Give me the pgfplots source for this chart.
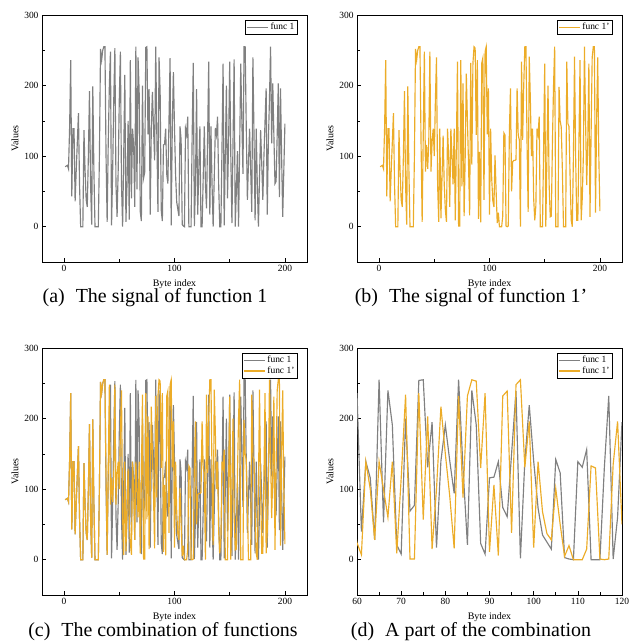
\documentclass[border=0pt]{standalone}
\usepackage{fontspec}
\setmainfont{Liberation Serif}
\usepackage{pgfplots}
\usepackage{pgfplotstable}
\pgfplotsset{compat=1.18}
\definecolor{fgrey}{RGB}{128,128,128}
\definecolor{fyel}{RGB}{236,172,40}

\pgfplotstableread{
x a b
1 85 85
2 86 86
3 87 87
4 82 82
5 140 140
6 236 236
7 43 43
8 139 139
9 139 139
10 36 36
11 80 80
12 120 120
13 161 161
14 60 60
15 0 0
16 0 0
17 0 0
18 137 137
19 80 80
20 38 38
21 28 28
22 100 100
23 192 192
24 60 60
25 3 3
26 199 199
27 80 80
28 0 0
29 0 0
30 0 0
31 0 0
32 100 100
33 252 252
34 236 236
35 250 250
36 255 255
37 255 255
38 100 120
39 7 7
40 120 130
41 200 248
42 248 78
43 2 116
44 80 82
45 180 120
46 253 248
47 60 78
48 14 120
49 80 139
50 180 100
51 248 180
52 60 240
53 0 60
54 100 7
55 215 139
56 7 12
57 60 70
58 150 129
59 10 60
60 236 24
61 40 7
62 139 139
63 116 100
64 28 28
65 255 139
66 53 100
67 240 60
68 191 139
69 21 9
70 8 115
71 200 234
72 69 1
73 77 1
74 254 236
75 255 57
76 131 203
77 195 15
78 17 100
79 140 217
80 191 150
81 140 90
82 94 16
83 255 232
84 130 88
85 21 232
86 240 255
87 191 253
88 23 130
89 8 236
90 116 11
91 117 106
92 139 6
93 74 232
94 61 239
95 150 38
96 239 248
97 2 255
98 140 131
99 219 196
100 140 17
101 73 139
102 35 68
103 25 37
104 15 28
105 142 101
106 123 50
107 3 5
108 1 20
109 0 0
110 139 0
111 131 0
112 156 15
113 0 133
114 0 130
115 0 1
116 130 0
117 232 1
118 1 135
119 60 196
120 195 50
121 17 92
122 80 94
123 142 94
124 0 95
125 0 196
126 70 130
127 142 123
128 60 0
129 26 234
130 130 123
131 234 200
132 17 255
133 142 255
134 60 120
135 0 21
136 70 241
137 140 180
138 130 100
139 156 139
140 60 40
141 0 9
142 0 30
143 110 139
144 231 130
145 2 156
146 100 0
147 200 0
148 40 0
149 120 110
150 234 231
151 100 0
152 5 100
153 120 200
154 237 60
155 0 14
156 50 15
157 107 120
158 0 200
159 110 255
160 231 0
161 150 0
162 75 0
163 255 198
164 255 150
165 140 141
166 38 80
167 90 0
168 139 0
169 80 0
170 21 234
171 240 146
172 130 142
173 9 70
174 139 9
175 60 0
176 0 100
177 70 241
178 137 100
179 90 9
180 38 9
181 100 120
182 150 236
183 196 9
184 17 40
185 120 100
186 180 255
187 255 150
188 118 59
189 203 120
190 130 231
191 61 14
192 64 130
193 130 240
194 203 255
195 42 255
196 196 20
197 100 150
198 14 240
199 80 100
200 146 22
}\data

\pgfplotsset{
  myax/.style={
    scale only axis, width=265bp, height=247bp,
    ymin=-50, ymax=300,
    ytick={0,100,200,300}, minor ytick={-50,50,150,250},
    tick align=inside, xtick pos=left, ytick pos=left,
    major tick length=4bp, minor tick length=2.5bp,
    tick style={black, line width=0.6bp},
    axis line style={line width=0.8bp},
    ticklabel style={font=\fontsize{9.5}{10}\selectfont},
    /pgf/number format/assume math mode=true,
    xlabel={Byte index}, ylabel={Values},
    label style={font=\fontsize{9}{10}\selectfont},
    every axis y label/.style={at={(axis description cs:-0.102,0.5)}, rotate=90, anchor=center},
    every axis x label/.style={at={(axis description cs:0.5,-0.089)}, anchor=center},
    legend style={draw=black, line width=0.6bp, at={(0.965,0.98)}, anchor=north east,
      font=\fontsize{9.5}{10}\selectfont, inner sep=1bp, row sep=-1.5bp},
    legend cell align=left,
    legend image code/.code={\draw[##1, line width=1.1bp] (0bp,0bp) -- (21bp,0bp);},
  },
  full/.style={xmin=-20, xmax=220, xtick={0,100,200}, minor xtick={50,150}},
  gl/.style={color=fgrey, line width=1.15bp, no marks},
  yl/.style={color=fyel, line width=1.15bp, no marks},
}

\begin{document}
\begin{tikzpicture}
\useasboundingbox (0,0) rectangle (630bp,644bp);

\begin{axis}[myax, full, at={(42bp,382bp)}, anchor=south west]
\addplot[gl] table[x=x, y=a] {\data};
\addlegendentry{func 1}
\end{axis}

\begin{axis}[myax, full, at={(357bp,382bp)}, anchor=south west]
\addplot[yl] table[x=x, y=b] {\data};
\addlegendentry{func 1'}
\end{axis}

\begin{axis}[myax, full, at={(42bp,49bp)}, anchor=south west]
\addplot[gl] table[x=x, y=a] {\data};
\addlegendentry{func 1}
\addplot[yl] table[x=x, y=b] {\data};
\addlegendentry{func 1'}
\end{axis}

\begin{axis}[myax, xmin=60, xmax=120, xtick={60,70,...,120}, minor x tick num=1,
  at={(357bp,49bp)}, anchor=south west]
\addplot[gl] table[x=x, y=a] {\data};
\addlegendentry{func 1}
\addplot[yl] table[x=x, y=b] {\data};
\addlegendentry{func 1'}
\end{axis}

\node[font=\fontsize{20}{22}\selectfont] at (155bp,346bp) {(a)\hspace{0.55em}The signal of function 1};
\node[font=\fontsize{20}{22}\selectfont] at (471bp,346bp) {(b)\hspace{0.55em}The signal of function 1’};
\node[font=\fontsize{20}{22}\selectfont] at (163bp,12bp) {(c)\hspace{0.55em}The combination of functions};
\node[font=\fontsize{20}{22}\selectfont] at (471bp,12bp) {(d)\hspace{0.55em}A part of the combination};
\end{tikzpicture}
\end{document}
